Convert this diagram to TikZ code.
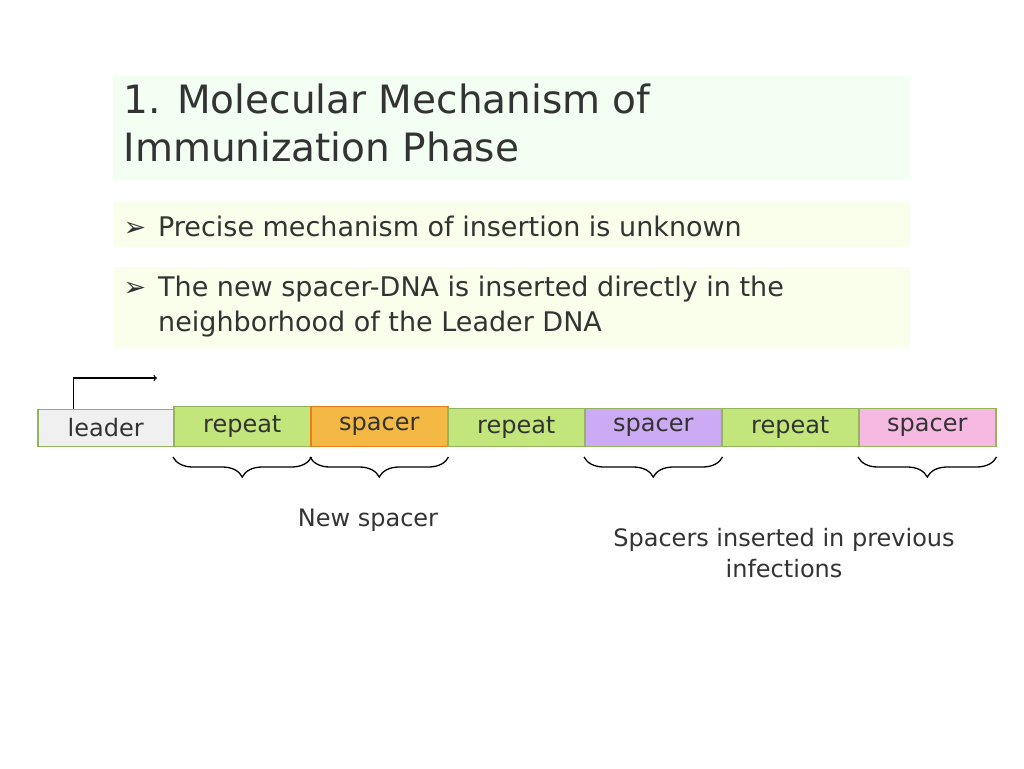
\documentclass[tikz,border=0pt]{standalone}
\usepackage{fontspec}
\setmainfont{DejaVu Sans}
\usetikzlibrary{decorations.pathreplacing, positioning}
\definecolor{txt}{HTML}{333333}
\definecolor{rep}{HTML}{C2E67C}
\definecolor{repb}{HTML}{93B55C}
\definecolor{spo}{HTML}{F3B944}
\definecolor{spp}{HTML}{CDAAF4}
\definecolor{spk}{HTML}{F6B9E1}
\tikzset{seg/.style={draw=repb, line width=1.5pt, minimum width=137pt, minimum height=38pt, inner sep=0pt, anchor=south west, font=\fontsize{24}{28}\selectfont, text=txt}}
\tikzset{panel/.style={anchor=north west, inner sep=0pt, minimum width=797pt}}
\tikzset{brc/.style={decorate, decoration={brace, mirror, amplitude=20pt}, line width=1.3pt}}
\begin{document}
\begin{tikzpicture}[x=1pt, y=-1pt]
    \useasboundingbox (0,0) rectangle (1024,768);

    % title and bullets
    \node(title)[panel, fill=green!5!white, minimum height=104pt] at (113,76){};
    \node[anchor=north west, align=left, text=txt, font=\fontsize{39}{48}\selectfont] at (120,80){1. Molecular Mechanism of\\Immunization Phase};
    \node(bulA)[panel, fill=lime!8!white, minimum height=45pt] at (113,202){};
    \node[anchor=west, text=txt, font=\fontsize{27}{35}\selectfont] at (120,226){➢\hspace{12pt}Precise mechanism of insertion is unknown};
    \node(bulB)[panel, fill=lime!8!white, minimum height=80pt] at (113,267){};
    \node[anchor=north west, align=left, text=txt, font=\fontsize{27}{35}\selectfont] at (120,272){➢\hspace{12pt}The new spacer-DNA is inserted directly in the\\\hphantom{➢}\hspace{12pt}neighborhood of the Leader DNA};

    % DNA strip
    \node(leader)[seg, fill=gray!12, minimum width=136pt, minimum height=37pt] at (37,447){leader};
    \node(repA)[seg, fill=rep, minimum height=40pt] at (173,447){repeat};
    \node(spA)[seg, fill=spo, draw=orange!60!brown, minimum height=40pt] at (310,447){spacer};
    \node(repB)[seg, fill=rep] at (447,447){repeat};
    \node(spB)[seg, fill=spp] at (584,447){spacer};
    \node(repC)[seg, fill=rep] at (721,447){repeat};
    \node(spC)[seg, fill=spk] at (858,447){spacer};

    % promoter arrow
    \coordinate(tip) at (157,378);
    \draw[->, line width=1.3pt] ([xshift=-32pt]leader.north) |- (tip);

    % braces
    \draw[brc] ([yshift=-10pt]repA.south west) -- ([yshift=-10pt]repA.south east);
    \draw[brc] ([yshift=-10pt]spA.south west) -- ([yshift=-10pt]spA.south east);
    \draw[brc] ([yshift=-10pt]spB.south west) -- ([yshift=-10pt]spB.south east);
    \draw[brc] ([yshift=-10pt]spC.south west) -- ([yshift=-10pt]spC.south east);

    \node(newsp)[text=txt, font=\fontsize{24}{28}\selectfont] at (368,520){New spacer};
    \node(prev)[text=txt, align=center, font=\fontsize{24}{31}\selectfont] at (784,553){Spacers inserted in previous\\infections};
\end{tikzpicture}
\end{document}
